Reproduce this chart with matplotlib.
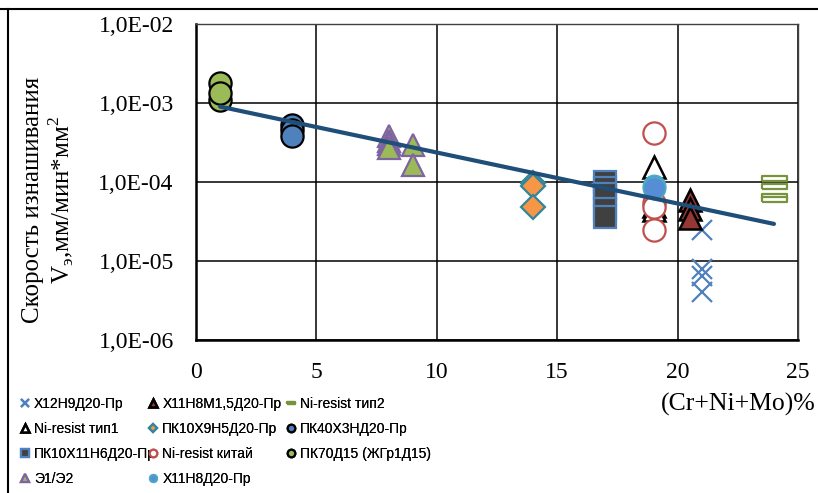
import numpy as np
import matplotlib
matplotlib.use('Agg')
import matplotlib.pyplot as plt
from matplotlib.lines import Line2D

plt.rcParams['font.family'] = ['Liberation Serif', 'DejaVu Serif']
plt.rcParams['mathtext.fontset'] = 'custom'
plt.rcParams['mathtext.rm'] = 'Liberation Serif'

# ---- данные (Cr+Ni+Mo, % ; скорость изнашивания) ----
x_h12n9 = [21, 21, 21, 21]
y_h12n9 = [2.5e-5, 8.0e-6, 6.5e-6, 4.0e-6]

x_h11n8m = [20.5, 20.5, 20.5]
y_h11n8m = [6.0e-5, 4.5e-5, 3.5e-5]

x_nir2 = [24, 24, 24, 24]
y_nir2 = [1.12e-4, 9.0e-5, 6.6e-5, 6.1e-5]

x_nir1 = [19, 19, 19]
y_nir1 = [1.55e-4, 5.0e-5, 4.4e-5]

x_pk10h9 = [14, 14, 14]
y_pk10h9 = [9.6e-5, 8.8e-5, 4.8e-5]

x_pk40 = [4, 4, 4]
y_pk40 = [5.3e-4, 4.5e-4, 3.8e-4]

x_pk10h11 = [17, 17, 17, 17, 17]
y_pk10h11 = [1.0e-4, 8.5e-5, 7.0e-5, 4.5e-5, 3.6e-5]

x_nirc = [19, 19, 19, 19]
y_nirc = [4.2e-4, 5.5e-5, 4.8e-5, 2.5e-5]

x_pk70 = [1, 1, 1]
y_pk70 = [1.8e-3, 1.1e-3, 1.35e-3]

x_e1 = [8, 8, 8, 8, 9, 9]
y_e1 = [3.8e-4, 3.3e-4, 3.0e-4, 2.7e-4, 2.9e-4, 1.65e-4]

x_h11n8 = [19, 19]
y_h11n8 = [9.0e-5, 8.5e-5]

trend_x = [1, 24]
trend_y = [9.0e-4, 2.95e-5]

xticks = [0, 5, 10, 15, 20, 25]
yticks = [1e-6, 1e-5, 1e-4, 1e-3, 1e-2]
ytick_labels = ['1,0E-06', '1,0E-05', '1,0E-04', '1,0E-03', '1,0E-02']

# маркер "тире" для Ni-resist тип2
dash = [(-1, -0.2), (1, -0.2), (1, 0.2), (-1, 0.2), (-1, -0.2)]

fig = plt.figure(figsize=(8.18, 4.93), dpi=100)
ax = fig.add_axes([0.2396, 0.3103, 0.7360, 0.6410])

ms = 16
series = [
    ('Х12Н9Д20-Пр', x_h12n9, y_h12n9, dict(marker='x', color='#4F81BD', mew=1.6, ms=15)),
    ('Х11Н8М1,5Д20-Пр', x_h11n8m, y_h11n8m, dict(marker='^', mfc='#953735', mec='black', mew=1.8, ms=ms)),
    ('Ni-resist тип2', x_nir2, y_nir2, dict(marker=dash, mfc='white', mec='#77933C', mew=1.6, ms=18)),
    ('Ni-resist тип1', x_nir1, y_nir1, dict(marker='^', mfc='white', mec='black', mew=1.8, ms=ms)),
    ('ПК10Х9Н5Д20-Пр', x_pk10h9, y_pk10h9, dict(marker='D', mfc='#F79646', mec='#31859C', mew=1.6, ms=12.5)),
    ('ПК40Х3НД20-Пр', x_pk40, y_pk40, dict(marker='o', mfc='#4F81BD', mec='black', mew=1.6, ms=ms)),
    ('ПК10Х11Н6Д20-Пр', x_pk10h11, y_pk10h11, dict(marker='s', mfc='#404040', mec='#4F81BD', mew=1.6, ms=16)),
    ('Ni-resist китай', x_nirc, y_nirc, dict(marker='o', mfc='white', mec='#C0504D', mew=1.6, ms=ms)),
    ('ПК70Д15 (ЖГр1Д15)', x_pk70, y_pk70, dict(marker='o', mfc='#9BBB59', mec='black', mew=1.6, ms=ms)),
    ('Э1/Э2', x_e1, y_e1, dict(marker='^', mfc='#9BBB59', mec='#8064A2', mew=1.6, ms=ms)),
    ('Х11Н8Д20-Пр', x_h11n8, y_h11n8, dict(marker='o', mfc='#558ED5', mec='#4BACC6', mew=1.2, ms=ms)),
]

handles = {}
for name, xs, ys, st in series:
    h, = ax.plot(xs, ys, linestyle='none', label=name, **st)
    handles[name] = h

ax.plot(trend_x, trend_y, color='#1F4E79', lw=3, solid_capstyle='round', zorder=5)

ax.set_yscale('log')
ax.set_xlim(0, 25)
ax.set_ylim(1e-6, 1e-2)
ax.set_xticks(xticks)
ax.set_xticklabels([str(v) for v in xticks])
ax.set_yticks(yticks)
ax.set_yticklabels(ytick_labels)
ax.minorticks_off()
ax.tick_params(axis='both', length=0, labelsize=17)
ax.tick_params(axis='x', pad=16)
ax.tick_params(axis='y', pad=16)
ax.grid(True, color='black', linewidth=1.1)
ax.set_axisbelow(True)
for s in ['left', 'bottom']:
    ax.spines[s].set_linewidth(1.8)
for s in ['top', 'right']:
    ax.spines[s].set_linewidth(1.0)
    ax.spines[s].set_color('#404040')

fig.text(0.060, 0.594, 'Скорость изнашивания\nV$_{\\mathregular{э}}$,мм/мин*мм$^{\\mathregular{2}}$',
         rotation=90, ha='center', va='center', multialignment='center',
         fontsize=18, linespacing=1.1)
fig.text(0.997, 0.1795, '(Cr+Ni+Mo)%', ha='right', va='center', fontsize=18.5)

# легенда в три колонки
cols = [
    ['Х12Н9Д20-Пр', 'Ni-resist тип1', 'ПК10Х11Н6Д20-Пр', 'Э1/Э2'],
    ['Х11Н8М1,5Д20-Пр', 'ПК10Х9Н5Д20-Пр', 'Ni-resist китай', 'Х11Н8Д20-Пр'],
    ['Ni-resist тип2', 'ПК40Х3НД20-Пр', 'ПК70Д15 (ЖГр1Д15)'],
]
col_x = [0.026, 0.183, 0.351]
for cx, names in zip(col_x, cols):
    leg = fig.legend([handles[n] for n in names], names, loc='upper left',
                     bbox_to_anchor=(cx, 0.194), frameon=False, markerscale=0.34,
                     handlelength=0.5, handletextpad=0.4, labelspacing=0.78,
                     borderaxespad=0, borderpad=0,
                     prop={'family': ['Liberation Sans', 'DejaVu Sans'], 'size': 10})
    fig.add_artist(leg)

# рамка рисунка
fig.add_artist(Line2D([0.0, 1.0], [0.981, 0.981], transform=fig.transFigure, color='black', lw=1.5))
fig.add_artist(Line2D([0.0095, 0.0095], [0.0, 0.981], transform=fig.transFigure, color='black', lw=1.5))

fig.savefig('out.png', dpi=100)
